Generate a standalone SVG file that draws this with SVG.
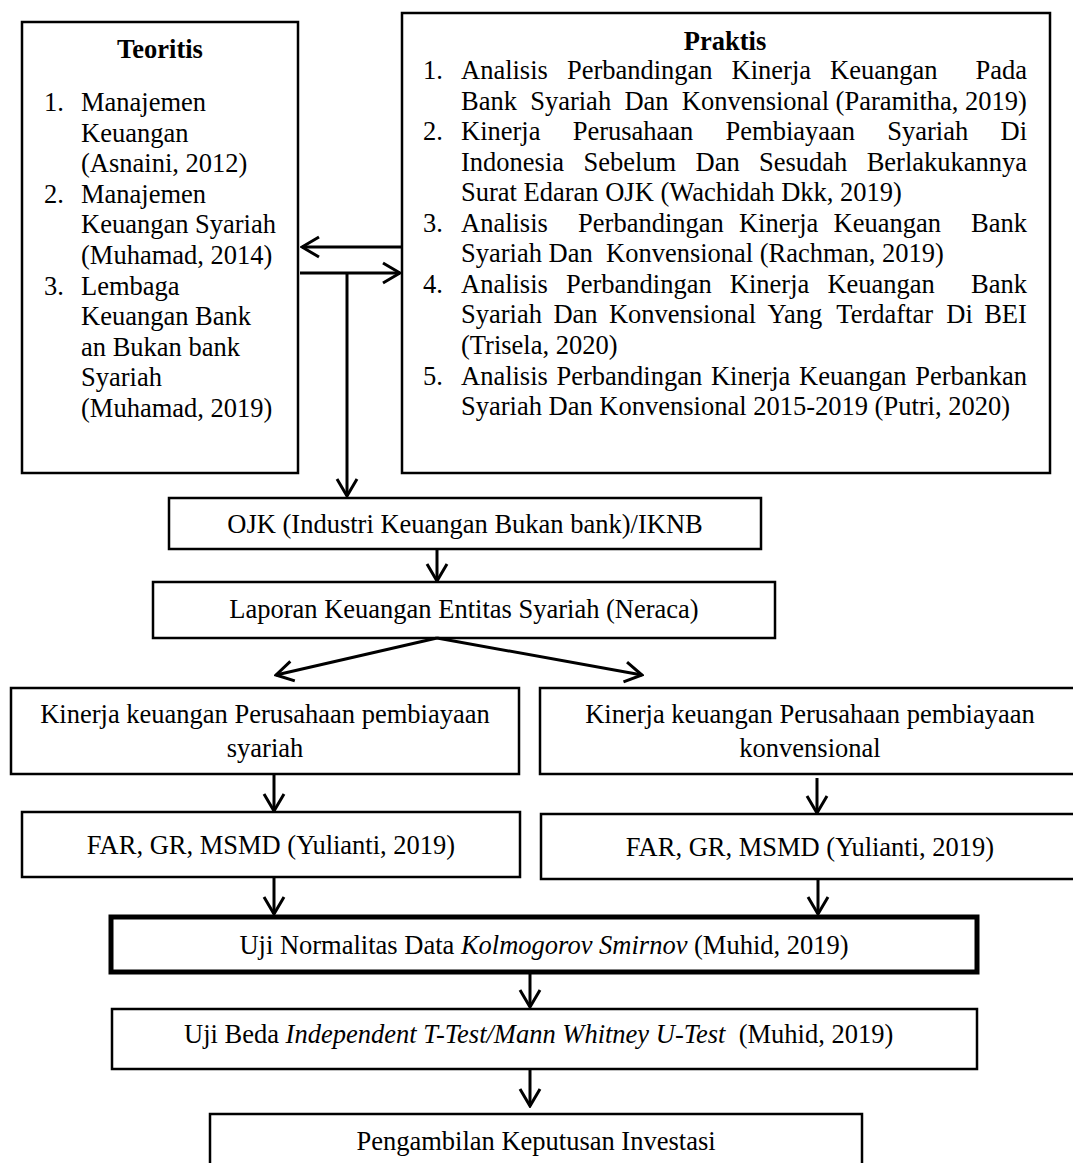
<svg xmlns="http://www.w3.org/2000/svg" width="1073" height="1163" viewBox="0 0 1073 1163">
<style>
.t{font-family:"Liberation Serif","Times New Roman",serif;font-size:26.5px;fill:#000}
.b{font-weight:bold}
.i{font-style:italic}
.m{text-anchor:middle}
.box{fill:#fff;stroke:#000;stroke-width:2.5}
.thick{stroke-width:5}
.conn{fill:none;stroke:#000;stroke-width:3;marker-end:url(#ah)}
</style>
<defs>
<marker id="ah" markerUnits="userSpaceOnUse" viewBox="-20 -12 22 24" refX="0" refY="0" markerWidth="22" markerHeight="24" orient="auto">
<path d="M-17,-10 L0,0 L-17,10" fill="none" stroke="#000" stroke-width="3"/>
</marker>
</defs>
<rect width="1073" height="1163" fill="#fff"/>

<g id="teoritis">
<rect class="box" x="22" y="22" width="276" height="451"/>
<text class="t b m" x="160" y="58">Teoritis</text>
<text class="t" x="44" y="111">1.</text>
<text class="t" x="81" y="111">Manajemen</text>
<text class="t" x="81" y="142">Keuangan</text>
<text class="t" x="81" y="172">(Asnaini, 2012)</text>
<text class="t" x="44" y="203">2.</text>
<text class="t" x="81" y="203">Manajemen</text>
<text class="t" x="81" y="233">Keuangan Syariah</text>
<text class="t" x="81" y="264">(Muhamad, 2014)</text>
<text class="t" x="44" y="295">3.</text>
<text class="t" x="81" y="295">Lembaga</text>
<text class="t" x="81" y="325">Keuangan Bank</text>
<text class="t" x="81" y="356">an Bukan bank</text>
<text class="t" x="81" y="386">Syariah</text>
<text class="t" x="81" y="417">(Muhamad, 2019)</text>
</g>

<g id="praktis">
<rect class="box" x="402" y="13" width="648" height="460"/>
<text class="t b m" x="725" y="50">Praktis</text>
<text class="t" x="423" y="79">1.</text>
<text class="t" y="79"><tspan x="461">Analisis</tspan><tspan x="566.9">Perbandingan</tspan><tspan x="731.6">Kinerja</tspan><tspan x="830.1">Keuangan</tspan><tspan x="975.5">Pada</tspan></text>
<text class="t" y="109.6"><tspan x="461">Bank</tspan><tspan x="530.2">Syariah</tspan><tspan x="624.4">Dan</tspan><tspan x="681.8">Konvensional</tspan><tspan x="835.6">(Paramitha,</tspan><tspan x="965.1">2019)</tspan></text>
<text class="t" x="423" y="140.1">2.</text>
<text class="t" y="140.1"><tspan x="461">Kinerja</tspan><tspan x="572.7">Perusahaan</tspan><tspan x="725.6">Pembiayaan</tspan><tspan x="887.3">Syariah</tspan><tspan x="1000.5">Di</tspan></text>
<text class="t" y="170.7"><tspan x="461">Indonesia</tspan><tspan x="583.4">Sebelum</tspan><tspan x="695.5">Dan</tspan><tspan x="759">Sesudah</tspan><tspan x="866.7">Berlakukannya</tspan></text>
<text class="t" x="461" y="201.2">Surat Edaran OJK (Wachidah Dkk, 2019)</text>
<text class="t" x="423" y="231.8">3.</text>
<text class="t" y="231.8"><tspan x="461">Analisis</tspan><tspan x="578.1">Perbandingan</tspan><tspan x="738.9">Kinerja</tspan><tspan x="833.5">Keuangan</tspan><tspan x="971.1">Bank</tspan></text>
<text class="t" y="262.3"><tspan x="461">Syariah</tspan><tspan x="548.6">Dan</tspan><tspan x="606">Konvensional</tspan><tspan x="759.8">(Rachman,</tspan><tspan x="881.9">2019)</tspan></text>
<text class="t" x="423" y="292.9">4.</text>
<text class="t" y="292.9"><tspan x="461">Analisis</tspan><tspan x="566">Perbandingan</tspan><tspan x="729.8">Kinerja</tspan><tspan x="827.4">Keuangan</tspan><tspan x="971.1">Bank</tspan></text>
<text class="t" y="323.4"><tspan x="461">Syariah</tspan><tspan x="553.4">Dan</tspan><tspan x="608.9">Konvensional</tspan><tspan x="767.5">Yang</tspan><tspan x="836.3">Terdaftar</tspan><tspan x="946.3">Di</tspan><tspan x="984.2">BEI</tspan></text>
<text class="t" x="461" y="354">(Trisela, 2020)</text>
<text class="t" x="423" y="384.5">5.</text>
<text class="t" y="384.5"><tspan x="461">Analisis</tspan><tspan x="556.5">Perbandingan</tspan><tspan x="710.9">Kinerja</tspan><tspan x="799.1">Keuangan</tspan><tspan x="915.2">Perbankan</tspan></text>
<text class="t" x="461" y="415">Syariah Dan Konvensional 2015-2019 (Putri, 2020)</text>
</g>

<g id="ojk">
<rect class="box" x="169" y="498" width="592" height="51"/>
<text class="t m" x="465" y="533">OJK (Industri Keuangan Bukan bank)/IKNB</text>
</g>

<g id="laporan">
<rect class="box" x="153" y="582" width="622" height="56"/>
<text class="t m" x="464" y="618">Laporan Keuangan Entitas Syariah (Neraca)</text>
</g>

<g id="kinerja-syariah">
<rect class="box" x="11" y="688" width="508" height="86"/>
<text class="t m" x="265" y="723">Kinerja keuangan Perusahaan pembiayaan</text>
<text class="t m" x="265" y="757">syariah</text>
</g>

<g id="kinerja-konvensional">
<rect class="box" x="540" y="688" width="540" height="86"/>
<text class="t m" x="810" y="723">Kinerja keuangan Perusahaan pembiayaan</text>
<text class="t m" x="810" y="757">konvensional</text>
</g>

<g id="far-syariah">
<rect class="box" x="22" y="812" width="498" height="65"/>
<text class="t m" x="271" y="854">FAR, GR, MSMD (Yulianti, 2019)</text>
</g>

<g id="far-konvensional">
<rect class="box" x="541" y="814" width="539" height="65"/>
<text class="t m" x="810" y="856">FAR, GR, MSMD (Yulianti, 2019)</text>
</g>

<g id="uji-normalitas">
<rect class="box thick" x="111" y="917" width="866" height="55"/>
<text class="t m" x="544" y="954">Uji Normalitas Data <tspan class="i">Kolmogorov Smirnov</tspan> (Muhid, 2019)</text>
</g>

<g id="uji-beda">
<rect class="box" x="112" y="1009" width="865" height="60"/>
<text class="t" x="184" y="1043" xml:space="preserve">Uji Beda <tspan class="i">Independent T-Test/Mann Whitney U-Test</tspan>  (Muhid, 2019)</text>
</g>

<g id="keputusan">
<rect class="box" x="210" y="1114" width="652" height="60"/>
<text class="t m" x="536" y="1150">Pengambilan Keputusan Investasi</text>
</g>

<g id="connectors">
<line class="conn" x1="402" y1="247" x2="302" y2="247"/>
<line class="conn" x1="300" y1="273" x2="400" y2="273"/>
<path class="conn" d="M347,273 L347,496"/>
<line class="conn" x1="437" y1="550" x2="437" y2="581"/>
<line class="conn" x1="437" y1="638" x2="276" y2="675"/>
<line class="conn" x1="437" y1="638" x2="642" y2="675"/>
<line class="conn" x1="274" y1="775" x2="274" y2="811"/>
<line class="conn" x1="817" y1="778" x2="817" y2="813"/>
<line class="conn" x1="274" y1="878" x2="274" y2="914"/>
<line class="conn" x1="818" y1="880" x2="818" y2="914"/>
<line class="conn" x1="530" y1="974" x2="530" y2="1007"/>
<line class="conn" x1="530" y1="1070" x2="530" y2="1106"/>
</g>
</svg>
